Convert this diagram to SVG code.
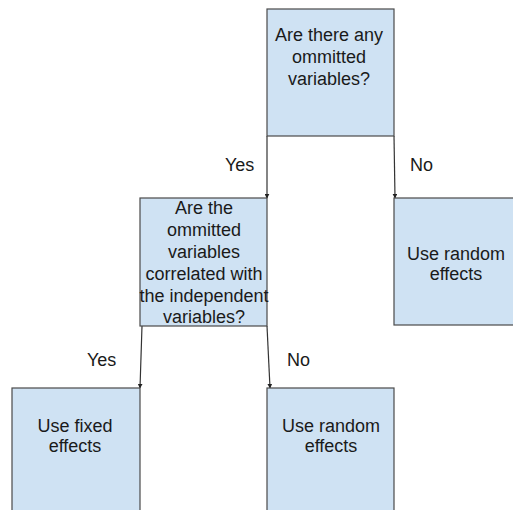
<svg xmlns="http://www.w3.org/2000/svg" width="513" height="510" viewBox="0 0 513 510">
<defs>
<style>
.box{fill:#cfe2f3;stroke:#4a4a4a;stroke-width:1.2}
.t{font-family:"Liberation Sans",Arial,sans-serif;font-size:18px;fill:#1a1a1a;text-anchor:middle}
.lbl{font-family:"Liberation Sans",Arial,sans-serif;font-size:18px;fill:#1a1a1a}
.c{stroke:#333;stroke-width:1.2;fill:none;marker-end:url(#ah)}
</style>
<marker id="ah" viewBox="0 0 8 8" refX="7" refY="4" markerWidth="5" markerHeight="5" orient="auto" markerUnits="userSpaceOnUse">
<path d="M0,0 L8,4 L0,8 Z" fill="#222"/>
</marker>
</defs>
<rect width="513" height="510" fill="#fff"/>
<g id="connectors">
<line class="c" x1="267" y1="136" x2="267" y2="198"/>
<line class="c" x1="394" y1="136" x2="395" y2="198"/>
<line class="c" x1="142" y1="326" x2="140" y2="388"/>
<line class="c" x1="267" y1="326" x2="270" y2="388"/>
<text class="lbl" x="225" y="171">Yes</text>
<text class="lbl" x="410" y="171">No</text>
<text class="lbl" x="87" y="366">Yes</text>
<text class="lbl" x="287" y="366">No</text>
</g>
<g id="q1">
<rect class="box" x="267" y="9" width="127" height="127"/>
<text class="t" x="329" y="41">Are there any</text>
<text class="t" x="329" y="63">ommitted</text>
<text class="t" x="329" y="85">variables?</text>
</g>
<g id="q2">
<rect class="box" x="140" y="198" width="127" height="128"/>
<text class="t" x="204" y="214">Are the</text>
<text class="t" x="204" y="236">ommitted</text>
<text class="t" x="204" y="258">variables</text>
<text class="t" x="204" y="280">correlated with</text>
<text class="t" x="204" y="302">the independent</text>
<text class="t" x="204" y="323">variables?</text>
</g>
<g id="random1">
<rect class="box" x="394" y="198" width="126" height="127"/>
<text class="t" x="456" y="260">Use random</text>
<text class="t" x="456" y="280">effects</text>
</g>
<g id="fixed">
<rect class="box" x="12" y="388" width="128" height="126"/>
<text class="t" x="75" y="432">Use fixed</text>
<text class="t" x="75" y="452">effects</text>
</g>
<g id="random2">
<rect class="box" x="267" y="388" width="127" height="126"/>
<text class="t" x="331" y="432">Use random</text>
<text class="t" x="331" y="452">effects</text>
</g>
</svg>
